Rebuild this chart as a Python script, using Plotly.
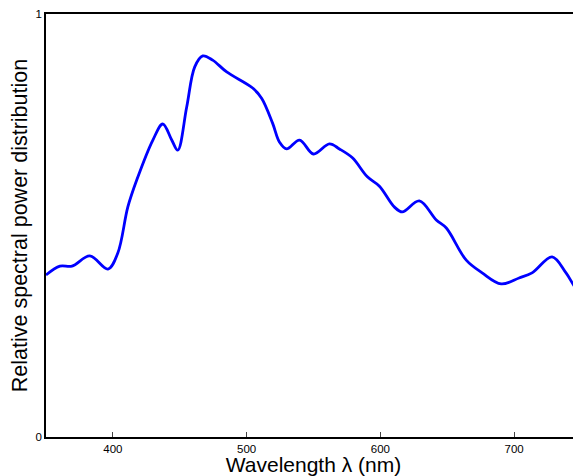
import plotly.graph_objects as go

wavelength = [350.0, 360.4, 369.4, 382.8, 396.3, 403.7, 411.2, 417.9, 429.9, 437.3,
              444.0, 448.5, 455.2, 461.2, 467.2, 474.6, 485.1, 504.5, 511.2, 519.4,
              524.6, 529.9, 539.6, 550.0, 561.9, 569.4, 579.1, 590.3, 599.3, 610.4,
              616.4, 629.1, 641.8, 649.3, 664.2, 676.1, 690.3, 703.7, 713.4, 728.4,
              738.8, 746.3, 750.0]
power = [0.383, 0.404, 0.404, 0.428, 0.397, 0.435, 0.544, 0.608, 0.702, 0.740,
         0.702, 0.678, 0.780, 0.875, 0.901, 0.891, 0.863, 0.825, 0.801, 0.742,
         0.697, 0.681, 0.702, 0.669, 0.693, 0.681, 0.660, 0.615, 0.593, 0.544,
         0.532, 0.558, 0.513, 0.494, 0.418, 0.388, 0.362, 0.376, 0.388, 0.426,
         0.388, 0.352, 0.347]

x_ticks = [400, 500, 600, 700]
y_ticks = [0, 1]

fig = go.Figure(go.Scatter(
    x=wavelength, y=power, mode="lines",
    line=dict(color="rgb(0,0,255)", width=2.8, shape="spline", smoothing=1.0),
    hoverinfo="skip",
))

font_family = "Liberation Sans, Arial, Helvetica, sans-serif"
fig.update_layout(
    width=573, height=468,
    margin=dict(l=38, r=0, t=6, b=39),
    paper_bgcolor="white", plot_bgcolor="white",
    showlegend=False,
    font=dict(family=font_family, color="black"),
    xaxis=dict(
        range=[350, 750], tickvals=x_ticks, ticktext=[str(v) for v in x_ticks],
        ticks="inside", ticklen=5, tickwidth=1, tickcolor="#444",
        showline=True, linecolor="black", linewidth=1.5, mirror=True,
        showgrid=False, zeroline=False, automargin=False,
        tickfont=dict(size=11.5),
        title=dict(text="Wavelength λ (nm)", font=dict(size=21), standoff=0),
    ),
    yaxis=dict(
        range=[0, 1], tickvals=y_ticks, ticktext=["0", "1"],
        ticks="", showline=True, linecolor="black", linewidth=1.5,
        showgrid=False, zeroline=False, automargin=False,
        tickfont=dict(size=11.5),
        title=dict(text="Relative spectral power distribution", font=dict(size=21.5), standoff=4),
    ),
)

fig.write_html("out.html")
